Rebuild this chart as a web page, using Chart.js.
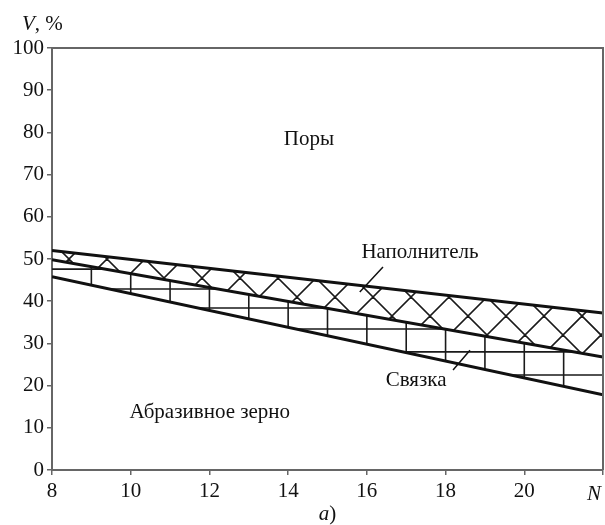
<!DOCTYPE html>
<html>
<head>
<meta charset="utf-8">
<script src="https://cdn.jsdelivr.net/npm/chart.js@4/dist/chart.umd.min.js"></script>
<style>
  html, body { margin: 0; padding: 0; background: #fff; }
  canvas { display: block; }
</style>
</head>
<body>
<canvas id="chart" width="605" height="525"></canvas>
<script>
// ── Data ──
const nValues    = [8, 22];          // N
const topLine    = [52.0, 37.2];     // поры / наполнитель
const midLine    = [49.8, 26.8];     // наполнитель / связка
const bottomLine = [45.8, 17.8];     // связка / абразивное зерно

// hatching of the bond band (staircase grid)
const bondLevels = [47.6, 42.9, 38.4, 33.4, 28.0, 22.5];
const bondSteps  = [9, 10, 11, 12, 13, 14, 15, 16, 17, 18, 19, 20, 21];

// labels: [text, N, V(baseline)]
const labels = [
  ['Поры', 14.53, 77.0],
  ['Наполнитель', 17.35, 50.2],
  ['Связка', 17.25, 19.9],
  ['Абразивное зерно', 12.01, 12.3]
];
// leader lines: [N1, V1, N2, V2]
const leaders = [
  [16.41, 48.1, 15.82, 42.2],
  [18.19, 23.7, 18.62, 28.4]
];

const FONT = '"Liberation Serif", "DejaVu Serif", serif';
const AXIS = '#666';
const INK = '#111';

const pts = (ys) => nValues.map((n, i) => ({ x: n, y: ys[i] }));

function bandPath(ctx, meta1, meta2) {
  const a = meta1.data, b = meta2.data;
  ctx.beginPath();
  ctx.moveTo(a[0].x, a[0].y);
  for (let i = 1; i < a.length; i++) ctx.lineTo(a[i].x, a[i].y);
  for (let i = b.length - 1; i >= 0; i--) ctx.lineTo(b[i].x, b[i].y);
  ctx.closePath();
}

const hatchPlugin = {
  id: 'hatch',
  beforeDatasetsDraw(chart) {
    const ctx = chart.ctx;
    const area = chart.chartArea;
    const xs = chart.scales.x, ys = chart.scales.y;
    const mTop = chart.getDatasetMeta(0), mMid = chart.getDatasetMeta(1), mBot = chart.getDatasetMeta(2);
    const H = area.bottom - area.top;

    // filler: cross hatch
    ctx.save();
    bandPath(ctx, mTop, mMid);
    ctx.clip();
    ctx.strokeStyle = '#1a1a1a';
    ctx.lineWidth = 1.6;
    ctx.beginPath();
    const s = 38;
    for (let c = area.left - H; c < area.right + H; c += s) {
      ctx.moveTo(c, area.top); ctx.lineTo(c + H, area.bottom);
      ctx.moveTo(c, area.bottom); ctx.lineTo(c + H, area.top);
    }
    ctx.stroke();
    ctx.restore();

    // bond: staircase grid
    ctx.save();
    bandPath(ctx, mMid, mBot);
    ctx.clip();
    ctx.strokeStyle = '#1a1a1a';
    ctx.lineWidth = 1.6;
    ctx.beginPath();
    bondLevels.forEach(v => {
      const y = ys.getPixelForValue(v);
      ctx.moveTo(area.left, y); ctx.lineTo(area.right, y);
    });
    bondSteps.forEach(n => {
      const x = xs.getPixelForValue(n);
      ctx.moveTo(x, area.top); ctx.lineTo(x, area.bottom);
    });
    ctx.stroke();
    ctx.restore();
  },
  afterDraw(chart) {
    const ctx = chart.ctx;
    const area = chart.chartArea;
    const xs = chart.scales.x, ys = chart.scales.y;

    // frame top/right
    ctx.save();
    ctx.strokeStyle = AXIS;
    ctx.lineWidth = 2;
    ctx.beginPath();
    ctx.moveTo(area.left, area.top); ctx.lineTo(area.right, area.top); ctx.lineTo(area.right, area.bottom);
    ctx.stroke();

    // leader lines
    ctx.strokeStyle = INK;
    ctx.lineWidth = 1.5;
    ctx.beginPath();
    leaders.forEach(([n1, v1, n2, v2]) => {
      ctx.moveTo(xs.getPixelForValue(n1), ys.getPixelForValue(v1));
      ctx.lineTo(xs.getPixelForValue(n2), ys.getPixelForValue(v2));
    });
    ctx.stroke();

    // region labels
    ctx.fillStyle = INK;
    ctx.font = '21px ' + FONT;
    ctx.textAlign = 'center';
    ctx.textBaseline = 'alphabetic';
    labels.forEach(([t, n, v]) => {
      ctx.fillText(t, xs.getPixelForValue(n), ys.getPixelForValue(v));
    });

    // axis captions with italic letters
    function mixed(parts, x, y) {
      let cx = x;
      parts.forEach(([t, it]) => {
        ctx.font = (it ? 'italic ' : '') + '21px ' + FONT;
        ctx.fillText(t, cx, y);
        cx += ctx.measureText(t).width;
      });
    }
    ctx.textAlign = 'left';
    mixed([['V', true], [', %', false]], 22, 30);
    ctx.font = 'italic 21px ' + FONT;
    const wa = ctx.measureText('a').width;
    ctx.font = '21px ' + FONT;
    const wb = ctx.measureText(')').width;
    mixed([['a', true], [')', false]], (area.left + area.right) / 2 - (wa + wb) / 2, 520);

    // N at the end of the x axis, tucked inside the canvas
    ctx.font = 'italic 21px ' + FONT;
    ctx.textAlign = 'right';
    ctx.fillText('N', xs.getPixelForValue(22) - 2, 500);
    ctx.restore();
  }
};

const lineStyle = { borderColor: INK, borderWidth: 3, pointRadius: 0, fill: false, tension: 0 };

new Chart(document.getElementById('chart'), {
  type: 'line',
  data: {
    datasets: [
      { label: 'top', data: pts(topLine), ...lineStyle },
      { label: 'mid', data: pts(midLine), ...lineStyle },
      { label: 'bottom', data: pts(bottomLine), ...lineStyle }
    ]
  },
  options: {
    responsive: false,
    animation: false,
    layout: { padding: { top: 48, right: 2, left: 0, bottom: 0 } },
    plugins: { legend: { display: false }, tooltip: { enabled: false } },
    scales: {
      x: {
        type: 'linear',
        min: 8, max: 22,
        afterFit: (s) => { s.height = 55; s.paddingRight = 0; s.paddingLeft = 0; },
        grid: { drawOnChartArea: false, color: AXIS, lineWidth: 1.5, tickLength: 5 },
        border: { color: AXIS, width: 2 },
        ticks: {
          stepSize: 2,
          padding: 4,
          color: INK,
          font: { family: FONT, size: 21 },
          callback: (v) => v === 22 ? '' : v
        }
      },
      y: {
        min: 0, max: 100,
        afterFit: (s) => { s.width = 52; s.paddingTop = 0; s.paddingBottom = 0; },
        grid: { drawOnChartArea: false, color: AXIS, lineWidth: 1.5, tickLength: 5 },
        border: { color: AXIS, width: 2 },
        ticks: { stepSize: 10, padding: 3, color: INK, font: { family: FONT, size: 21 } }
      }
    }
  },
  plugins: [hatchPlugin]
});
</script>
</body>
</html>
